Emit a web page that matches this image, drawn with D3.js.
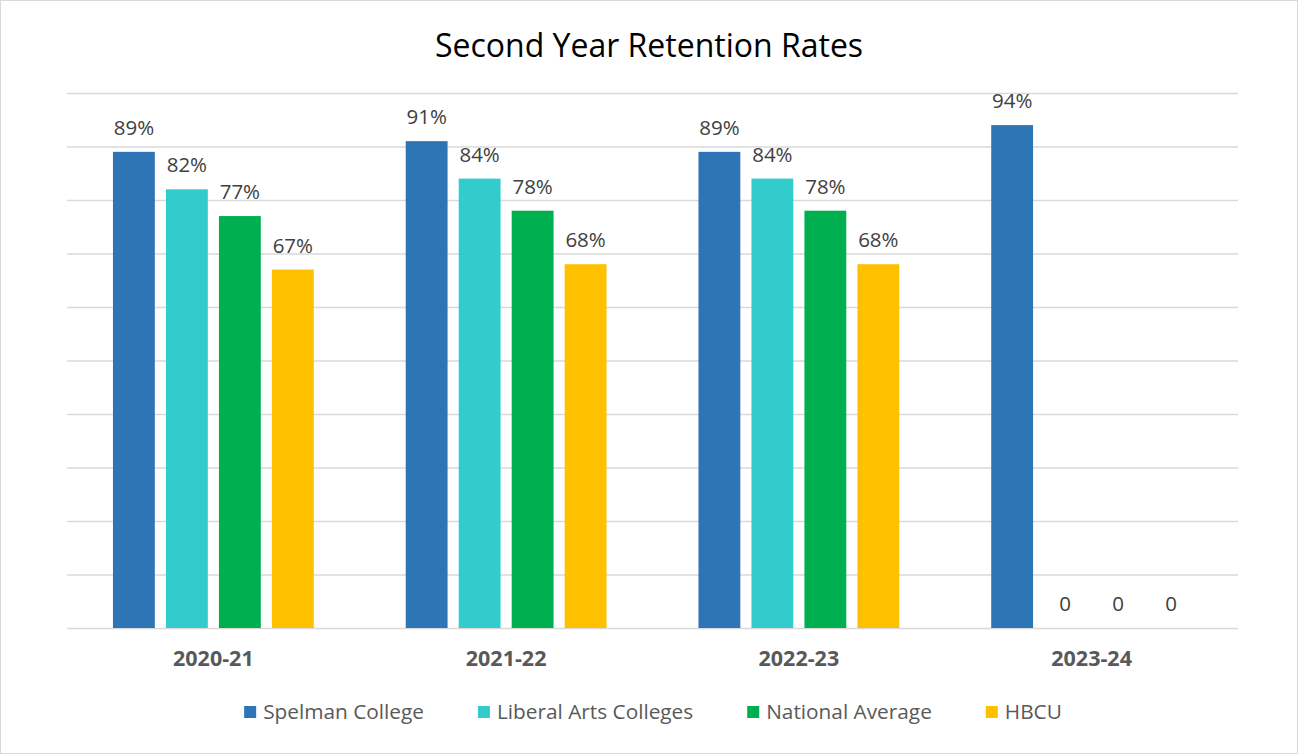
<!DOCTYPE html>
<html><head><meta charset="utf-8">
<script src="https://cdn.jsdelivr.net/npm/d3@7"></script>
<style>body{margin:0;background:#fff}svg{display:block}text{font-family:"Open Sans",sans-serif}</style>
</head><body>
<svg id="c" width="1298" height="754"></svg>
<script>
const categories = ["2020-21","2021-22","2022-23","2023-24"];
const seriesNames = ["Spelman College","Liberal Arts Colleges","National Average","HBCU"];
const spelman = [89,91,89,94];
const liberalArts = [82,84,84,0];
const national = [77,78,78,0];
const hbcu = [67,68,68,0];
const colors = ["#2E75B6","#33CCCC","#00B050","#FFC000"];
const yTicks = [0,10,20,30,40,50,60,70,80,90,100];

(function(){
const seriesValues = [spelman, liberalArts, national, hbcu];
const svg = d3.select("#c");
const W = 1298, H = 754;
const pLeft = 67, pRight = 1238, pTop = 93, pBottom = 628;

svg.append("rect").attr("x",0.5).attr("y",0.5).attr("width",W-1).attr("height",H-1)
  .attr("fill","#fff").attr("stroke","#d9d9d9").attr("stroke-width",1);

svg.append("text").attr("x",649).attr("y",57).attr("text-anchor","middle")
  .attr("font-size",32).attr("fill","#000").text("Second Year Retention Rates");

const y = d3.scaleLinear().domain([0,100]).range([pBottom, pTop]);
const x0 = d3.scaleBand().domain(categories).range([pLeft,pRight]).paddingInner(0.276).paddingOuter(0.138);
const x1 = d3.scaleBand().domain(seriesNames).range([0,x0.bandwidth()]).paddingInner(0.21).paddingOuter(0.105);

const yAxis = d3.axisLeft(y).tickValues(yTicks).tickSize(-(pRight-pLeft)).tickFormat("");
const gy = svg.append("g").attr("transform",`translate(${pLeft},0)`).call(yAxis);
gy.select(".domain").remove();
gy.selectAll(".tick line").attr("stroke","#d9d9d9").attr("stroke-width",1.3);

const data = categories.map((c,i)=>({cat:c, vals: seriesNames.map((s,j)=>({s, j, v: seriesValues[j][i]}))}));

const groups = svg.append("g").selectAll("g").data(data).join("g")
  .attr("transform",d=>`translate(${x0(d.cat)},0)`);

groups.selectAll("rect").data(d=>d.vals.filter(v=>v.v>0)).join("rect")
  .attr("x",d=>x1(d.s)).attr("width",x1.bandwidth())
  .attr("y",d=>y(d.v)).attr("height",d=>y(0)-y(d.v))
  .attr("fill",d=>colors[d.j]);

groups.selectAll("text").data(d=>d.vals).join("text")
  .attr("x",d=>x1(d.s)+x1.bandwidth()/2).attr("y",d=>y(d.v)-17)
  .attr("text-anchor","middle").attr("font-size",20.5).attr("fill","#404040")
  .text(d=>d.v>0 ? d.v+"%" : "0");

const xAxis = d3.axisBottom(x0).tickSize(0).tickPadding(0);
const gx = svg.append("g").attr("transform",`translate(0,${pBottom})`).call(xAxis);
gx.select(".domain").remove();
gx.selectAll("text").attr("dy",null).attr("y",38).attr("font-size",21.5).attr("font-weight","bold")
  .attr("fill","#595959").attr("font-family","'Open Sans',sans-serif");

const lg = svg.append("g");
const items = lg.selectAll("g").data(seriesNames).join("g");
items.append("rect").attr("width",12).attr("height",12).attr("y",706).attr("fill",(d,i)=>colors[i]);
items.append("text").attr("x",19).attr("y",719).attr("font-size",20.8).attr("fill","#595959").text(d=>d);
let xs = 0; const pos = [];
items.each(function(d){ const w = this.querySelector("text").getComputedTextLength(); pos.push(xs); xs += 19 + w + 54; });
const total = xs - 54;
const start = 653 - total/2;
items.attr("transform",(d,i)=>`translate(${start+pos[i]},0)`);
})();
</script>
</body></html>
